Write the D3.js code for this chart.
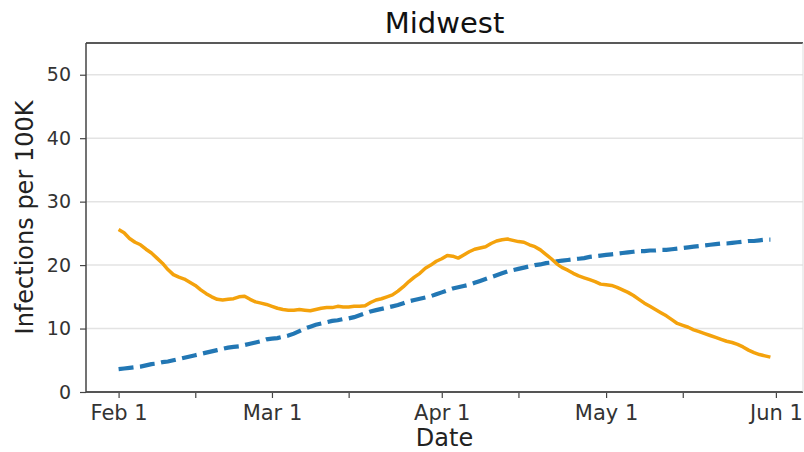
<!DOCTYPE html>
<html>
<head>
<meta charset="utf-8">
<script src="https://cdn.jsdelivr.net/npm/d3@7"></script>
<style>
  body { margin: 0; background: #fff; }
  svg text { font-family: "DejaVu Sans", sans-serif; }
</style>
</head>
<body>
<svg id="chart" width="804" height="452"></svg>
<script>
// daily values, Feb 1 2021 .. May 31 2021
var startDate = new Date(2021, 1, 1);

var orangeValues = [
  25.6, 25.1, 24.2, 23.6, 23.2, 22.5, 21.9, 21.1, 20.3, 19.3,
  18.5, 18.1, 17.8, 17.3, 16.8, 16.1, 15.5, 15.0, 14.6, 14.5,
  14.6, 14.7, 15.0, 15.1, 14.6, 14.2, 14.0, 13.8, 13.5, 13.2,
  13.0, 12.9, 12.9, 13.0, 12.9, 12.8, 13.0, 13.2, 13.3, 13.3,
  13.5, 13.4, 13.4, 13.5, 13.5, 13.6, 14.1, 14.5, 14.7, 15.0,
  15.3, 15.9, 16.6, 17.4, 18.1, 18.7, 19.5, 20.0, 20.6, 21.0,
  21.5, 21.4, 21.1, 21.6, 22.1, 22.5, 22.7, 22.9, 23.4, 23.8,
  24.0, 24.1, 23.9, 23.7, 23.6, 23.2, 22.9, 22.4, 21.7, 21.0,
  20.2, 19.6, 19.2, 18.7, 18.3, 18.0, 17.7, 17.4, 17.0, 16.9,
  16.8, 16.5, 16.1, 15.7, 15.2, 14.6, 14.0, 13.5, 13.0, 12.5,
  12.0, 11.4, 10.8, 10.5, 10.2, 9.8, 9.5, 9.2, 8.9, 8.6,
  8.3, 8.0, 7.8, 7.5, 7.1, 6.6, 6.2, 5.9, 5.7, 5.5
];

var blueValues = [
  3.6, 3.7, 3.8, 3.9, 4.0, 4.2, 4.4, 4.5, 4.7, 4.8,
  5.0, 5.2, 5.4, 5.6, 5.8, 6.0, 6.2, 6.4, 6.6, 6.8,
  7.0, 7.1, 7.2, 7.4, 7.6, 7.8, 8.0, 8.3, 8.4, 8.5,
  8.7, 8.9, 9.2, 9.6, 10.0, 10.3, 10.6, 10.8, 11.0, 11.2,
  11.3, 11.5, 11.6, 11.8, 12.1, 12.4, 12.7, 12.9, 13.1, 13.3,
  13.5, 13.7, 14.0, 14.3, 14.5, 14.7, 14.9, 15.1, 15.4, 15.7,
  16.0, 16.3, 16.5, 16.7, 16.9, 17.2, 17.5, 17.8, 18.1, 18.4,
  18.7, 19.0, 19.2, 19.4, 19.6, 19.8, 20.0, 20.1, 20.3, 20.4,
  20.6, 20.7, 20.8, 20.9, 21.0, 21.1, 21.3, 21.4, 21.5, 21.6,
  21.7, 21.8, 21.9, 22.0, 22.1, 22.2, 22.2, 22.3, 22.3, 22.4,
  22.4, 22.5, 22.6, 22.7, 22.8, 22.9, 23.0, 23.1, 23.2, 23.3,
  23.4, 23.4, 23.5, 23.6, 23.7, 23.8, 23.8, 23.9, 24.0, 24.0
];

var yTicks = [0, 10, 20, 30, 40, 50];
var yMax = 55;
var title = "Midwest";
var xLabel = "Date";
var yLabel = "Infections per 100K";

var margin = {left: 86, right: 803, top: 43, bottom: 392};

var svg = d3.select("#chart");

var dates = orangeValues.map((d, i) => d3.timeDay.offset(startDate, i));
var first = dates[0], last = dates[dates.length - 1];
var pad = (last - first) * 0.05;

var x = d3.scaleTime()
    .domain([new Date(+first - pad), new Date(+last + pad)])
    .range([margin.left, margin.right]);

var y = d3.scaleLinear()
    .domain([0, yMax])
    .range([margin.bottom, margin.top]);

// grid
svg.append("g")
    .selectAll("line")
    .data(yTicks.filter(t => t > 0))
    .enter()
    .append("line")
        .attr("x1", margin.left)
        .attr("x2", margin.right)
        .attr("y1", d => y(d))
        .attr("y2", d => y(d))
        .attr("stroke", "#e3e3e3")
        .attr("stroke-width", 1.5);

// lines
var line = d3.line()
    .x((d, i) => x(dates[i]))
    .y(d => y(d));

svg.append("path")
    .datum(blueValues)
    .attr("fill", "none")
    .attr("stroke", "#2277b4")
    .attr("stroke-width", 4.2)
    .attr("stroke-dasharray", "15,6.5")
    .attr("d", line);

svg.append("path")
    .datum(orangeValues)
    .attr("fill", "none")
    .attr("stroke", "#f4a20c")
    .attr("stroke-width", 3.5)
    .attr("stroke-linejoin", "round")
    .attr("d", line);

// axes
var majorTicks = d3.timeMonth.range(first, d3.timeDay.offset(last, 2));
var minorTicks = majorTicks.slice(0, -1).map(d => d3.timeDay.offset(d, 14));

var xAxis = svg.append("g")
    .attr("transform", "translate(0," + margin.bottom + ")")
    .call(d3.axisBottom(x).tickValues(majorTicks).tickFormat(d3.timeFormat("%b %-d")).tickSize(6).tickSizeOuter(0).tickPadding(7));
xAxis.selectAll("text").attr("font-size", 21).attr("fill", "#333");

var xMinor = svg.append("g")
    .attr("transform", "translate(0," + margin.bottom + ")")
    .call(d3.axisBottom(x).tickValues(minorTicks).tickFormat("").tickSize(6).tickSizeOuter(0));
xMinor.select(".domain").remove();

var yAxis = svg.append("g")
    .attr("transform", "translate(" + margin.left + ",0)")
    .call(d3.axisLeft(y).tickValues(yTicks).tickSize(6).tickSizeOuter(0).tickPadding(9));
yAxis.selectAll("text").attr("font-size", 19).attr("fill", "#333");

svg.selectAll(".tick line").attr("stroke", "#444").attr("stroke-width", 1.2);
svg.selectAll(".domain").remove();

// frame
svg.append("line")
    .attr("x1", margin.left).attr("x2", margin.right)
    .attr("y1", margin.top).attr("y2", margin.top)
    .attr("stroke", "#222").attr("stroke-width", 1.5);
svg.append("line")
    .attr("x1", margin.left).attr("x2", margin.right)
    .attr("y1", margin.bottom).attr("y2", margin.bottom)
    .attr("stroke", "#555").attr("stroke-width", 2);
svg.append("line")
    .attr("x1", margin.left).attr("x2", margin.left)
    .attr("y1", margin.top).attr("y2", margin.bottom)
    .attr("stroke", "#444").attr("stroke-width", 1.5);
svg.append("line")
    .attr("x1", margin.right).attr("x2", margin.right)
    .attr("y1", margin.top).attr("y2", margin.bottom)
    .attr("stroke", "#ddd").attr("stroke-width", 1);

// labels
svg.append("text")
    .attr("x", (margin.left + margin.right) / 2)
    .attr("y", 33)
    .attr("text-anchor", "middle")
    .attr("font-size", 29)
    .attr("fill", "#111")
    .text(title);

svg.append("text")
    .attr("x", (margin.left + margin.right) / 2)
    .attr("y", 446)
    .attr("text-anchor", "middle")
    .attr("font-size", 24)
    .attr("fill", "#222")
    .text(xLabel);

svg.append("text")
    .attr("transform", "translate(33," + (margin.top + margin.bottom) / 2 + ") rotate(-90)")
    .attr("text-anchor", "middle")
    .attr("font-size", 24)
    .attr("fill", "#222")
    .text(yLabel);
</script>
</body>
</html>
